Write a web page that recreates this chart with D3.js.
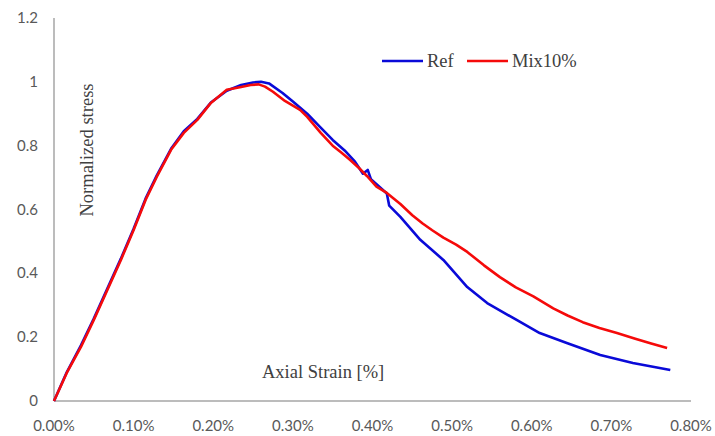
<!DOCTYPE html>
<html>
<head>
<meta charset="utf-8">
<script src="https://cdn.jsdelivr.net/npm/d3@7"></script>
<style>
  body { margin: 0; background: #fff; }
  .tick-label { font-family: Lato, "Open Sans", sans-serif; font-size: 15px; fill: #595959; }
  .title { font-family: "Liberation Serif", "Times New Roman", serif; font-size: 18.5px; fill: #404040; }
</style>
</head>
<body>
<svg id="chart"></svg>
<script>
  // data: axial strain [%] vs normalized stress
  var refStrain = [0, 0.016, 0.034, 0.05, 0.067, 0.084, 0.1, 0.115, 0.129, 0.147, 0.163, 0.18, 0.197, 0.217, 0.235, 0.25, 0.26, 0.27, 0.287, 0.3, 0.318, 0.334, 0.35, 0.365, 0.378, 0.388, 0.394, 0.398, 0.41, 0.418, 0.421, 0.435, 0.46, 0.489, 0.519, 0.544, 0.581, 0.61, 0.644, 0.686, 0.727, 0.774];
  var refStress = [0, 0.09, 0.175, 0.258, 0.352, 0.446, 0.54, 0.634, 0.706, 0.79, 0.845, 0.884, 0.935, 0.972, 0.99, 0.998, 1.0, 0.995, 0.965, 0.938, 0.9, 0.859, 0.818, 0.785, 0.75, 0.712, 0.724, 0.695, 0.668, 0.65, 0.612, 0.577, 0.505, 0.442, 0.357, 0.307, 0.254, 0.213, 0.182, 0.144, 0.119, 0.097];

  var mixStrain = [0, 0.016, 0.034, 0.05, 0.067, 0.084, 0.1, 0.115, 0.129, 0.147, 0.163, 0.18, 0.197, 0.217, 0.235, 0.247, 0.257, 0.265, 0.275, 0.29, 0.309, 0.318, 0.335, 0.35, 0.36, 0.372, 0.383, 0.393, 0.405, 0.418, 0.435, 0.45, 0.463, 0.475, 0.489, 0.505, 0.519, 0.54, 0.56, 0.58, 0.602, 0.627, 0.645, 0.664, 0.685, 0.707, 0.73, 0.75, 0.77];
  var mixStress = [0, 0.088, 0.17, 0.254, 0.348, 0.442, 0.536, 0.63, 0.702, 0.787, 0.84, 0.881, 0.934, 0.975, 0.984, 0.99, 0.992, 0.985, 0.969, 0.94, 0.912, 0.89, 0.84, 0.8, 0.78, 0.755, 0.73, 0.705, 0.672, 0.652, 0.617, 0.582, 0.556, 0.535, 0.512, 0.49, 0.467, 0.425, 0.388, 0.356, 0.328, 0.29, 0.268, 0.247, 0.229, 0.213, 0.195, 0.18, 0.166];

  var xTicks = [0, 0.1, 0.2, 0.3, 0.4, 0.5, 0.6, 0.7, 0.8];
  var yTicks = [0, 0.2, 0.4, 0.6, 0.8, 1, 1.2];
  var seriesNames = ['Ref', 'Mix10%'];
  var seriesColors = ['#0a0ad8', '#f50a0a'];

  var width = 715,
    height = 436;

  var x = d3.scaleLinear().domain([0, 0.8]).range([54, 691]);
  var y = d3.scaleLinear().domain([0, 1.2]).range([401, 18]);

  var svg = d3.select('#chart')
    .attr('width', width)
    .attr('height', height);

  // axes: plain grey lines, no tick marks
  svg.append('line')
    .attr('x1', x(0)).attr('x2', x(0))
    .attr('y1', y(0)).attr('y2', y(1.2))
    .attr('stroke', '#a6a6a6')
    .attr('stroke-width', 1.5);

  svg.append('line')
    .attr('x1', x(0)).attr('x2', x(0.8))
    .attr('y1', y(0)).attr('y2', y(0))
    .attr('stroke', '#a6a6a6')
    .attr('stroke-width', 1.5);

  svg.selectAll('.ylab')
    .data(yTicks)
    .enter().append('text')
    .attr('class', 'tick-label')
    .attr('x', 38)
    .attr('y', function (d) { return y(d) + 5; })
    .attr('text-anchor', 'end')
    .text(function (d) { return d; });

  svg.selectAll('.xlab')
    .data(xTicks)
    .enter().append('text')
    .attr('class', 'tick-label')
    .attr('x', function (d) { return x(d); })
    .attr('y', 431)
    .attr('text-anchor', 'middle')
    .text(function (d) { return d.toFixed(2) + '%'; });

  // curves
  var line = d3.line()
    .x(function (d) { return x(d[0]); })
    .y(function (d) { return y(d[1]); });

  var series = [
    d3.zip(refStrain, refStress),
    d3.zip(mixStrain, mixStress)
  ];

  svg.selectAll('.curve')
    .data(series)
    .enter().append('path')
    .attr('class', 'curve')
    .attr('fill', 'none')
    .attr('stroke', function (d, i) { return seriesColors[i]; })
    .attr('stroke-width', 2.6)
    .attr('stroke-linejoin', 'round')
    .attr('d', line);

  // axis titles inside the plot, like the original
  svg.append('text')
    .attr('class', 'title')
    .attr('x', 262)
    .attr('y', 378)
    .text('Axial Strain [%]');

  svg.append('text')
    .attr('class', 'title')
    .attr('transform', 'translate(93,150) rotate(-90)')
    .attr('text-anchor', 'middle')
    .text('Normalized stress');

  // legend
  var legendX = [382, 467];
  var legend = svg.selectAll('.legend')
    .data(seriesNames)
    .enter().append('g')
    .attr('class', 'legend')
    .attr('transform', function (d, i) { return 'translate(' + legendX[i] + ',61)'; });

  legend.append('line')
    .attr('x1', 0).attr('x2', 41)
    .attr('y1', 0).attr('y2', 0)
    .attr('stroke', function (d, i) { return seriesColors[i]; })
    .attr('stroke-width', 2.6);

  legend.append('text')
    .attr('class', 'title')
    .attr('x', 45)
    .attr('y', 6)
    .text(function (d) { return d; });
</script>
</body>
</html>
